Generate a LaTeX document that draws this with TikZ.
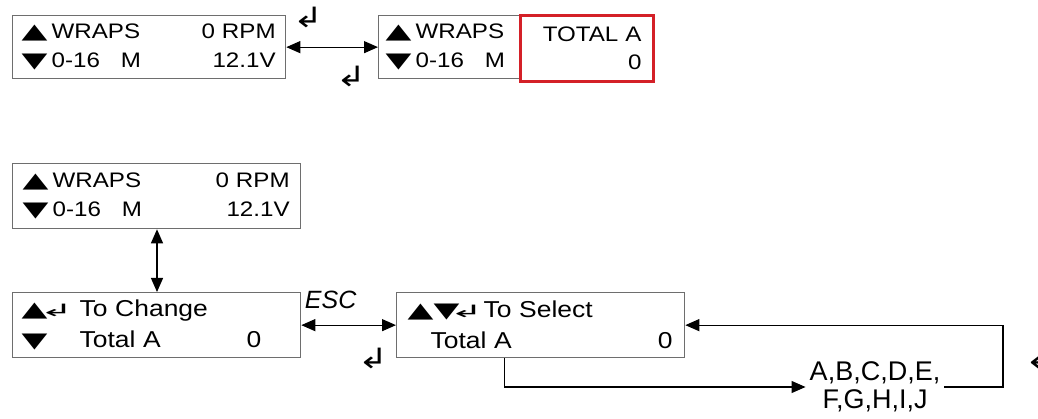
\documentclass[tikz,border=0pt]{standalone}
\usepackage{fontspec}
\setmainfont{Liberation Sans}
\newfontfamily\lcdfont{Liberation Sans}[FakeStretch=1.15]
\newfontfamily\symfont{DejaVu Sans}
\usetikzlibrary{arrows.meta,positioning}
\definecolor{boxgray}{RGB}{110,110,110}
\definecolor{alertred}{RGB}{212,32,40}
\newcommand{\ret}{\makebox[16pt]{\symfont\fontsize{17}{17}\selectfont\scalebox{2.4}[1]{↲}}}
\newcommand{\upm}{\makebox[24pt]{\symfont\fontsize{21}{21}\selectfont\scalebox{1.6}[1]{▲}}}
\newcommand{\dnm}{\makebox[24pt]{\symfont\fontsize{21}{21}\selectfont\scalebox{1.6}[1]{▼}}}

\begin{document}
\begin{tikzpicture}[x=1pt,y=-1pt,>={Triangle[length=14pt,width=12pt]},
  lcd/.style={draw=boxgray,line width=1.3pt,anchor=north west,inner xsep=10pt,inner ysep=0pt,align=left},
  topfont/.style={font=\lcdfont\fontsize{21}{28.5}\selectfont},
  lowfont/.style={font=\lcdfont\fontsize{23}{31}\selectfont},
  enter/.style={font=\symfont\fontsize{28}{28}\selectfont,inner sep=0pt},
  link/.style={draw=black,line width=1.2pt}]

  \useasboundingbox (0,0) rectangle (1038,419);

  % top row: main screen and total screen
  \node[lcd,topfont,minimum width=273pt,minimum height=63pt,text width=253pt] (main) at (12,15)
    {\upm\hspace{5pt}WRAPS\hfill 0 RPM\\\dnm\hspace{5pt}0-16\quad M\hfill 12.1V};
  \node[lcd,topfont,minimum width=142pt,minimum height=63pt,text width=126pt,inner xsep=8pt] (total) at (378,15)
    {\upm\hspace{5pt}WRAPS\\\dnm\hspace{5pt}0-16\quad M};
  \node[lcd,topfont,draw=alertred,line width=3pt,minimum width=133pt,minimum height=66pt,
    text width=109pt,inner xsep=12pt,align=right] (totalval) at (519,14) {TOTAL A\\0};
  \draw[link,<->] (main) -- (total);
  \node[enter] (ret1) at (308,17) {\scalebox{1.3}[1]{↲}};
  \node[enter] (ret2) at (351,76) {\scalebox{1.3}[1]{↲}};

  % bottom: change and select screens
  \node[lcd,topfont,minimum width=288pt,minimum height=65pt,text width=266pt,inner xsep=11pt] (home) at (12,163)
    {\upm\hspace{5pt}WRAPS\hfill 0 RPM\\\dnm\hspace{5pt}0-16\quad M\hfill 12.1V};
  \node[lcd,lowfont,minimum width=288pt,minimum height=65pt,text width=268pt] (change) at (12,292)
    {\makebox[57pt][l]{\upm\hspace{2pt}\ret}To Change\\\makebox[57pt][l]{\dnm}\makebox[167pt][l]{Total A}0};
  \node[lcd,lowfont,minimum width=288pt,minimum height=65pt,text width=264pt,inner xsep=12pt] (select) at (396,292)
    {\upm\hspace{2pt}\dnm\ret\hspace{9pt}To Select\\\hspace*{22pt}Total A\hfill 0};
  \node[font=\fontsize{27}{28}\selectfont,align=center,inner sep=4pt] (letters) at (875,387)
    {A,B,C,D,E,\\F,G,H,I,J};
  \coordinate (loop) at (1003,0);

  \draw[link,<->] (home.south -| 157,0) -- (change.north -| 157,0);
  \draw[link,<->] (change) -- node[above,font=\itshape\fontsize{25}{25}\selectfont,xshift=-18pt,yshift=12pt] (esc) {ESC} (select);
  \node[enter] (ret3) at (373,358) {\scalebox{1.3}[1]{↲}};
  \draw[link,->] ([xshift=-36pt]select.south) |- (letters.west);
  \draw[link,->] (letters.east) -| (loop |- select.east) -- (select.east);
  \node[enter] (ret4) at (1040,358) {\scalebox{1.3}[1]{↲}};
\end{tikzpicture}
\end{document}
